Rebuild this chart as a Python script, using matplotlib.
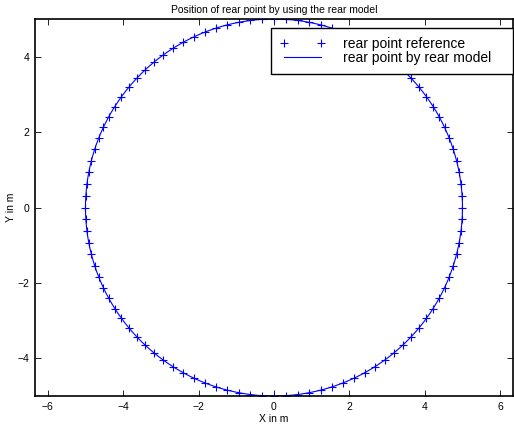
import numpy as np
import matplotlib.pyplot as plt

plt.rcParams['font.family'] = ['Liberation Sans', 'DejaVu Sans']

# circular test track of the rear point
radius = 5.0
n_ref = 100          # reference samples around the circle
n_model = 400        # finer sampling for the simulated rear model
title = 'Position of rear point by using the rear model'
xlabel = 'X in m'
ylabel = 'Y in m'
labels = ['rear point reference', 'rear point by rear model']
xticks = [-6, -4, -2, 0, 2, 4, 6]
yticks = [-4, -2, 0, 2, 4]

t_ref = np.linspace(0, 2 * np.pi, n_ref, endpoint=False)
x_ref = radius * np.cos(t_ref)
y_ref = radius * np.sin(t_ref)
t_mod = np.linspace(0, 2 * np.pi, n_model)
x_mod = radius * np.cos(t_mod)
y_mod = radius * np.sin(t_mod)

fig = plt.figure(figsize=(5.14, 4.32), dpi=100)
ax = fig.add_axes([0.068, 0.0833, 0.930, 0.8727])

ax.plot(x_ref, y_ref, '+', color='blue', markersize=5.5, markeredgewidth=0.8,
        label=labels[0])
ax.plot(x_mod, y_mod, '-', color='blue', linewidth=0.8, label=labels[1])

ax.set_xlim(-6.34, 6.34)
ax.set_ylim(-5, 5)
ax.set_xticks(xticks)
ax.set_yticks(yticks)
ax.set_xticklabels(['\u22126', '\u22124', '\u22122', '0', '2', '4', '6'])
ax.set_yticklabels(['\u22124', '\u22122', '0', '2', '4'])
ax.tick_params(direction='in', top=True, right=True, labelsize=7.5,
               length=4, width=0.6, pad=4)
for s in ax.spines.values():
    s.set_linewidth(1.2)

ax.set_title(title, fontsize=7.5, pad=4)
ax.set_xlabel(xlabel, fontsize=7.5, labelpad=2)
ax.set_ylabel(ylabel, fontsize=7.5, labelpad=1)

# legend box spans from mid-axes to the right spine
leg = ax.legend(loc='upper left', bbox_to_anchor=(0.4937, 0.862, 0.5063, 0.114),
                mode='expand', borderaxespad=0, numpoints=2, handlelength=3.25,
                fontsize=10, fancybox=False, edgecolor='black',
                framealpha=1, borderpad=0.65, labelspacing=0.0,
                handletextpad=1.27)
leg.get_frame().set_linewidth(1.0)

fig.savefig('out.png', dpi=100)
